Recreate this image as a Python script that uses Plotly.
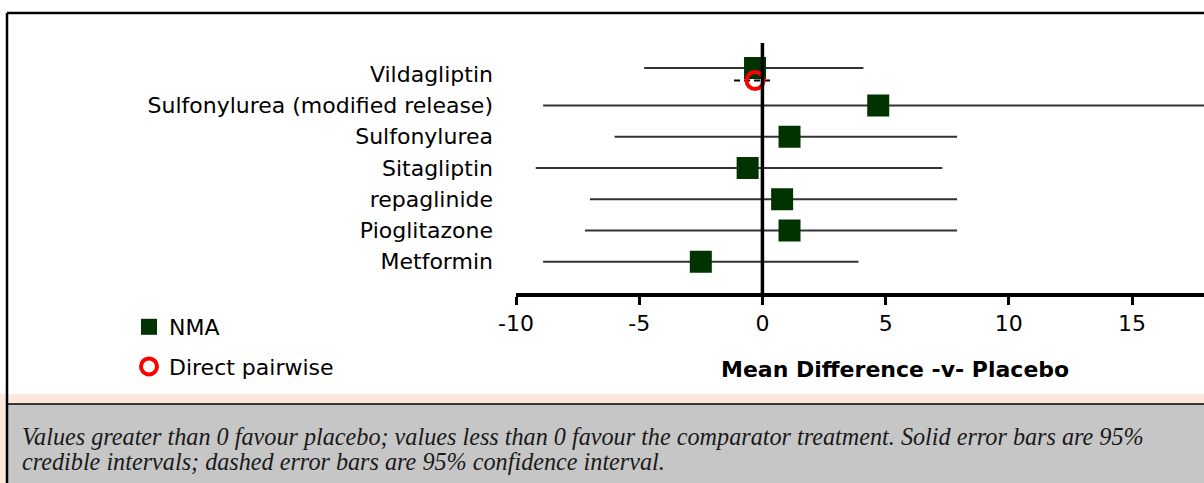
import plotly.graph_objects as go

# forest plot data (mean difference vs placebo)
treatments = ["Metformin", "Pioglitazone", "repaglinide", "Sitagliptin",
              "Sulfonylurea", "Sulfonylurea (modified release)", "Vildagliptin"]
nma_mean = [-2.5, 1.1, 0.8, -0.6, 1.1, 4.7, -0.3]
nma_lower = [-8.9, -7.2, -7.0, -9.2, -6.0, -8.9, -4.8]
nma_upper = [3.9, 7.9, 7.9, 7.3, 7.9, 19.0, 4.1]

direct_treatments = ["Vildagliptin"]
direct_mean = [-0.3]
direct_lower = [-1.15]
direct_upper = [0.43]

x_ticks = [-10, -5, 0, 5, 10, 15]

footnote_lines = [
    "Values greater than 0 favour placebo; values less than 0 favour the comparator treatment. Solid error bars are 95%",
    "credible intervals; dashed error bars are 95% confidence interval.",
]

W, H = 1204, 483
L, R, T, B = 516, 1204, 43, 293   # plot area in pixels
SANS = "DejaVu Sans, Arial"
SERIF = "Liberation Serif, Times New Roman"


def px(x):
    return (x - L) / (R - L)


def py(y):
    return (B - y) / (B - T)


row = {name: i for i, name in enumerate(treatments)}
nma_y = [row[n] + (0.2 if n in direct_treatments else 0) for n in treatments]
direct_y = [row[n] - 0.2 for n in direct_treatments]

fig = go.Figure()

# credible interval lines
for lo, hi, y in zip(nma_lower, nma_upper, nma_y):
    fig.add_trace(go.Scatter(x=[lo, hi], y=[y, y], mode="lines",
                             line=dict(color="#333333", width=2),
                             showlegend=False, hoverinfo="skip"))

# confidence interval lines (dashed)
for lo, hi, y in zip(direct_lower, direct_upper, direct_y):
    fig.add_trace(go.Scatter(x=[lo, hi], y=[y, y], mode="lines",
                             line=dict(color="black", width=2, dash="6px,4px"),
                             showlegend=False, hoverinfo="skip"))

fig.add_trace(go.Scatter(
    x=nma_mean, y=nma_y, mode="markers", name="NMA", legendgroup="a",
    marker=dict(symbol="square", size=22, color="#003300"),
))
fig.add_trace(go.Scatter(
    x=direct_mean, y=direct_y, mode="markers", name="Direct pairwise", legendgroup="b",
    marker=dict(symbol="circle-open", size=17, color="red", line=dict(width=4, color="red")),
))

shapes = [
    # zero line
    dict(type="line", xref="x", yref="paper", x0=0, x1=0, y0=0, y1=1,
         line=dict(color="black", width=3.5), layer="above"),
    # peach band + grey footnote box
    dict(type="rect", xref="paper", yref="paper", x0=px(-5), x1=px(W + 5), y0=py(H + 5), y1=py(394),
         fillcolor="#fde9dc", line=dict(width=0), layer="below"),
    dict(type="rect", xref="paper", yref="paper", x0=px(8), x1=px(W + 5), y0=py(H + 5), y1=py(404),
         fillcolor="#c6c6c6", line=dict(width=0), layer="below"),
    dict(type="line", xref="paper", yref="paper", x0=px(7), x1=px(W + 5), y0=py(404), y1=py(404),
         line=dict(color="black", width=1.5), layer="below"),
    # outer border
    dict(type="line", xref="paper", yref="paper", x0=px(7), x1=px(W + 5), y0=py(13), y1=py(13),
         line=dict(color="black", width=2.5), layer="below"),
    dict(type="line", xref="paper", yref="paper", x0=px(7), x1=px(7), y0=py(13), y1=py(H + 5),
         line=dict(color="black", width=2.5), layer="below"),
]

annotations = [
    dict(text="<b>Mean Difference -v- Placebo</b>", xref="paper", yref="paper",
         x=px(895), y=py(369), xanchor="center", yanchor="middle", showarrow=False,
         font=dict(family=SANS, size=22, color="black")),
]
for text, y in zip(footnote_lines, [436, 461]):
    annotations.append(dict(text="<i>" + text + "</i>", xref="paper", yref="paper",
                            x=px(20), y=py(y), xanchor="left", yanchor="middle",
                            showarrow=False,
                            font=dict(family=SERIF, size=24.2, color="#1a1a1a")))

fig.update_layout(
    width=W, height=H,
    margin=dict(l=L, r=W - R, t=T, b=H - B),
    paper_bgcolor="white", plot_bgcolor="white",
    font=dict(family=SANS, size=22, color="black"),
    shapes=shapes, annotations=annotations,
    showlegend=True,
    legend=dict(x=px(129), y=py(306), xanchor="left", yanchor="top",
                bgcolor="rgba(0,0,0,0)", tracegroupgap=8,
                font=dict(family=SANS, size=22, color="black")),
    xaxis=dict(range=[-10, 17.92], tickvals=x_ticks, ticktext=[str(v) for v in x_ticks],
               showgrid=False, zeroline=False,
               showline=True, linecolor="black", linewidth=3.5,
               ticks="outside", ticklen=8, tickwidth=3, tickcolor="black",
               tickfont=dict(family=SANS, size=22)),
    yaxis=dict(range=[-1, 7], tickvals=list(range(len(treatments))), ticktext=treatments,
               showgrid=False, zeroline=False, showline=False, ticks="",
               ticklabelstandoff=22, tickfont=dict(family=SANS, size=22)),
)

fig.write_html("out.html", config={"displayModeBar": False},
               post_script="document.body.style.margin = '0';")
